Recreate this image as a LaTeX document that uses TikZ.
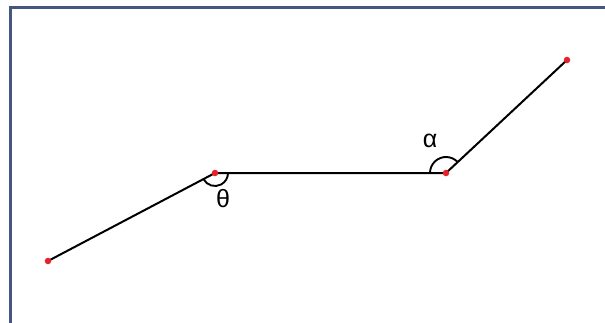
\documentclass[tikz,border=0pt]{standalone}
\usepackage{fontspec}
\setmainfont{Liberation Sans}
\definecolor{framec}{HTML}{44577F}
\definecolor{dotc}{HTML}{E8202A}
\begin{document}
\begin{tikzpicture}[x=1pt,y=-1pt,
  seg/.style={line width=2pt,black},
  arcst/.style={line width=1.9pt,black},
  pt/.style={circle,fill=dotc,inner sep=0pt,minimum size=6.5pt},
  lab/.style={inner sep=0pt,font=\fontsize{25}{25}\selectfont}]
\useasboundingbox (0,0) rectangle (605,322);
\fill[white] (0,0) rectangle (605,322);
\draw[framec,line width=3pt] (10,324) -- (10,7) -- (607,7);
\coordinate (a) at (48,261);
\coordinate (b) at (215,173);
\coordinate (c) at (446,173);
\coordinate (d) at (567,60);
\draw[seg] (a) -- (b) -- (c) -- (d);
\draw[arcst] ([shift={(152.2:13)}]b) arc[start angle=152.2,end angle=0,radius=13];
\draw[arcst] ([shift={(-43:16)}]c) arc[start angle=-43,end angle=-180,radius=16];
\node[pt] (pb) at (b) {};
\node[pt] (pa) at (a) {};
\node[pt] (pc) at (c) {};
\node[pt] (pd) at (d) {};
\node[lab] (alpha) at (430,141) {α};
\node[lab] (theta) at (223,199) {θ};
\end{tikzpicture}
\end{document}
